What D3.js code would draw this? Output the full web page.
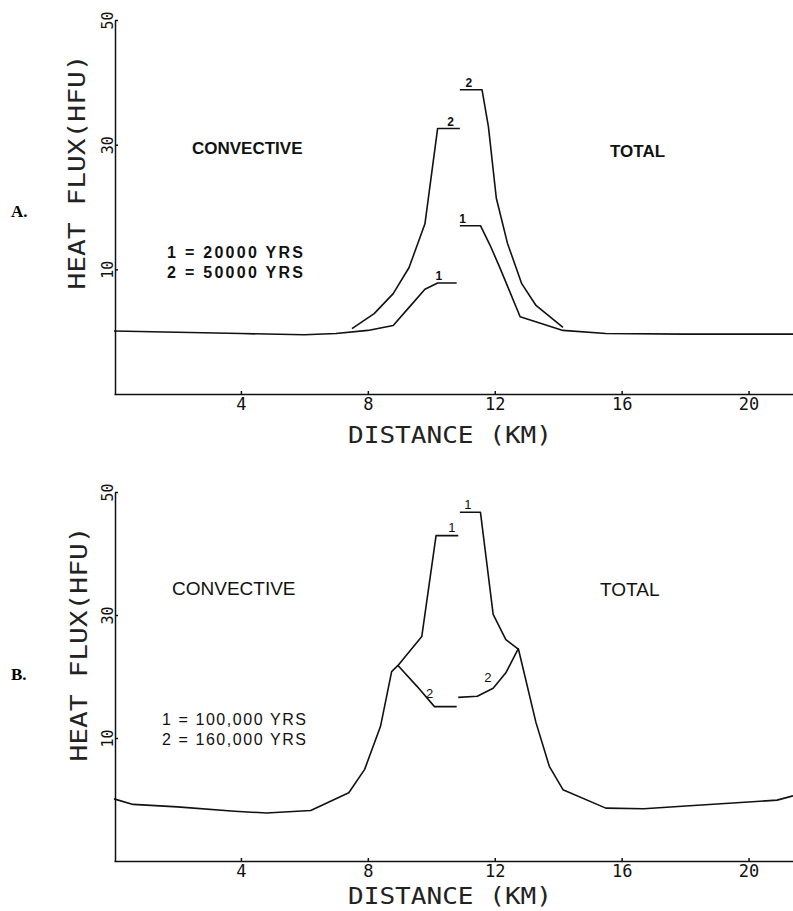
<!DOCTYPE html>
<html>
<head>
<meta charset="utf-8">
<script src="https://cdn.jsdelivr.net/npm/d3@7"></script>
<style>
  body { margin: 0; background: #fff; }
  svg { display: block; }
  .curve { fill: none; stroke: #111; stroke-width: 1.6; stroke-linejoin: round; }
  .axis path, .axis line { stroke: #111; stroke-width: 1.5; }
</style>
</head>
<body>
<svg id="chart" width="793" height="911"></svg>
<script>
// Tick values
const xTicks = [4, 8, 12, 16, 20]
const yTicks = [10, 30, 50]

// Panel A, [distance km, heat flux HFU]
const convA1 = [[0, 0.1], [2, -0.1], [4, -0.3], [6, -0.5], [7, -0.3], [8, 0.2], [8.8, 1.0], [9.3, 3.9], [9.8, 6.8], [10.2, 7.8], [10.8, 7.8]]
const convA2 = [[7.5, 0.5], [8.2, 2.9], [8.8, 6.1], [9.3, 10.3], [9.8, 17.3], [10.2, 32.6], [10.9, 32.6]]
const totalA1 = [[10.9, 17.0], [11.55, 17.0], [11.85, 13.9], [12.15, 10.4], [12.8, 2.4], [14.15, 0.2], [15.5, -0.3], [18, -0.4], [21.4, -0.4]]
const totalA2 = [[10.9, 38.8], [11.6, 38.8], [11.8, 32.9], [12.05, 21.4], [12.4, 14.2], [12.85, 7.7], [13.3, 4.2], [14.15, 0.7]]
const curveLabelsA = [
  { text: '1', km: 10.24, hfu: 8.3 },
  { text: '2', km: 10.61, hfu: 33.0 },
  { text: '1', km: 10.99, hfu: 17.4 },
  { text: '2', km: 11.18, hfu: 39.3 }
]
const legendA = ['1 = 20000 YRS', '2 = 50000 YRS']

// Panel B
const convB1 = [[0, 0.1], [0.6, -0.8], [2, -1.2], [3.8, -1.9], [4.8, -2.2], [6.2, -1.8], [7.4, 1.1], [7.9, 4.9], [8.4, 11.9], [8.75, 20.8], [8.95, 21.8], [9.7, 26.5], [10.15, 42.9], [10.85, 42.9]]
const convB2 = [[8.95, 21.8], [9.55, 18.4], [10.1, 15.1], [10.8, 15.1]]
const totalB1 = [[10.9, 46.7], [11.55, 46.7], [11.95, 30.1], [12.35, 26.0], [12.75, 24.4], [13.3, 12.5], [13.72, 5.4], [14.15, 1.6], [15.5, -1.4], [16.7, -1.5], [17.9, -1.1], [20.9, -0.1], [21.4, 0.6]]
const totalB2 = [[10.85, 16.6], [11.45, 16.8], [11.95, 18.1], [12.35, 20.6], [12.75, 24.6]]
const curveLabelsB = [
  { text: '1', km: 10.65, hfu: 43.5 },
  { text: '1', km: 11.15, hfu: 47.2 },
  { text: '2', km: 9.95, hfu: 16.5 },
  { text: '2', km: 11.78, hfu: 19.1 }
]
const legendB = ['1 = 100,000 YRS', '2 = 160,000 YRS']

const svg = d3.select('#chart')
svg.append('rect').attr('width', 793).attr('height', 911).attr('fill', '#fff')

const mono = '"DejaVu Sans Mono", monospace'
const sans = '"Liberation Sans", Arial, sans-serif'

function drawPanel (p) {
  let x = d3.scaleLinear().domain([0, 21.4]).range([114, 793])
  let y = d3.scaleLinear().domain([-10, 50]).range([p.bottom, p.top])
  let g = svg.append('g')

  // Axes
  g.append('g')
    .attr('class', 'axis')
    .attr('transform', 'translate(0,' + p.bottom + ')')
    .call(d3.axisBottom(x).tickValues(xTicks).tickSize(-3).tickSizeOuter(0).tickPadding(4))
    .call(a => a.selectAll('text')
      .attr('fill', '#111')
      .style('font-family', mono)
      .style('font-size', '17px'))

  g.append('g')
    .attr('class', 'axis')
    .attr('transform', 'translate(115,0)')
    .call(d3.axisLeft(y).tickValues(yTicks).tickSize(-3).tickSizeOuter(0))
    .call(a => a.selectAll('text')
      .attr('transform', 'rotate(-90)')
      .attr('x', 0).attr('y', -2).attr('dy', 0)
      .attr('text-anchor', 'middle')
      .attr('fill', '#111')
      .style('font-family', mono)
      .style('font-size', '15px'))

  // Axis titles
  g.append('text')
    .attr('transform', 'translate(' + p.yTitle[0] + ',' + p.yTitle[1] + ') rotate(-90)')
    .attr('text-anchor', 'middle')
    .attr('textLength', 235).attr('lengthAdjust', 'spacingAndGlyphs')
    .style('font-family', mono).style('font-size', '23px').attr('fill', '#222')
    .text('HEAT  FLUX(HFU)')

  g.append('text')
    .attr('x', 450).attr('y', p.xTitleY)
    .attr('text-anchor', 'middle')
    .attr('textLength', 204).attr('lengthAdjust', 'spacingAndGlyphs')
    .style('font-family', mono).style('font-size', '23px').attr('fill', '#222')
    .text('DISTANCE (KM)')

  // Panel letter
  g.append('text')
    .attr('x', 11).attr('y', p.letterY)
    .style('font-family', '"Liberation Serif", serif')
    .style('font-size', '17px').style('font-weight', 'bold')
    .text(p.letter)

  // Region names
  g.append('text')
    .attr('x', p.convPos[0]).attr('y', p.convPos[1])
    .style('font-family', sans).style('font-size', p.nameSize + 'px')
    .style('font-weight', p.weight).attr('fill', '#111')
    .text('CONVECTIVE')
  g.append('text')
    .attr('x', p.totalPos[0]).attr('y', p.totalPos[1])
    .style('font-family', sans).style('font-size', p.nameSize + 'px')
    .style('font-weight', p.weight).attr('fill', '#111')
    .text('TOTAL')

  // Legend
  g.selectAll('.legend')
    .data(p.legend)
    .enter().append('text')
    .attr('x', p.legendPos[0])
    .attr('y', (d, i) => p.legendPos[1] + i * 20)
    .attr('textLength', p.legendWidth).attr('lengthAdjust', 'spacing')
    .style('font-family', sans).style('font-size', '16px')
    .style('font-weight', p.weight).attr('fill', '#111')
    .text(d => d)

  // Curves
  let line = d3.line()
    .x(d => x(d[0]))
    .y(d => y(d[1]))

  g.selectAll('.curve')
    .data(p.series)
    .enter().append('path')
    .attr('class', 'curve')
    .attr('d', line)

  g.selectAll('.clabel')
    .data(p.labels)
    .enter().append('text')
    .attr('x', d => x(d.km))
    .attr('y', d => y(d.hfu))
    .attr('text-anchor', 'middle')
    .style('font-family', sans).style('font-size', p.labelSize + 'px')
    .style('font-weight', p.weight).attr('fill', '#111')
    .text(d => d.text)
}

drawPanel({
  letter: 'A.',
  top: 20,
  bottom: 394,
  letterY: 217,
  yTitle: [85, 172],
  xTitleY: 443,
  convPos: [192, 154],
  totalPos: [610, 157],
  nameSize: 17,
  weight: 'bold',
  legend: legendA,
  legendPos: [167, 258],
  legendWidth: 136,
  labelSize: 12,
  series: [convA1, convA2, totalA1, totalA2],
  labels: curveLabelsA
})

drawPanel({
  letter: 'B.',
  top: 492,
  bottom: 861,
  letterY: 680,
  yTitle: [87, 644],
  xTitleY: 904,
  convPos: [172, 595],
  totalPos: [600, 596],
  nameSize: 19,
  weight: 'normal',
  legend: legendB,
  legendPos: [162, 725],
  legendWidth: 144,
  labelSize: 13,
  series: [convB1, convB2, totalB1, totalB2],
  labels: curveLabelsB
})
</script>
</body>
</html>
